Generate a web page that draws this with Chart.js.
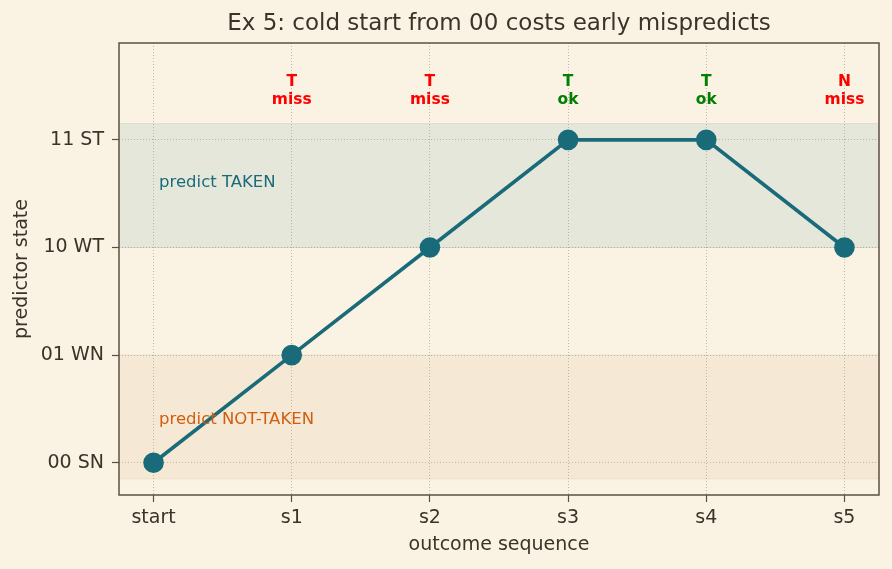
<!DOCTYPE html>
<html>
<head>
<meta charset="utf-8">
<script src="https://cdn.jsdelivr.net/npm/chart.js@4.4.0/dist/chart.umd.min.js"></script>
<style>
  html, body { margin: 0; padding: 0; background: #faf3e4; }
  #wrap { width: 892px; height: 569px; }
</style>
</head>
<body>
<div id="wrap"><canvas id="fsmChart" width="892" height="569"></canvas></div>
<script>
  // step labels and predictor state after each step
  const steps = ['start', 's1', 's2', 's3', 's4', 's5'];
  const states = [0, 1, 2, 3, 3, 2];
  const stateLabels = ['00 SN', '01 WN', '10 WT', '11 ST'];
  // outcome and prediction result for s1..s5
  const outcomes = ['T', 'T', 'T', 'T', 'N'];
  const results = ['miss', 'miss', 'ok', 'ok', 'miss'];

  const FONT = "'DejaVu Sans', sans-serif";
  const TEXT = '#3a3329';
  const TEAL = '#1a6b7a';
  const FRAME = '#5c5040';

  const decorPlugin = {
    id: 'decor',
    beforeDraw(chart) {
      const { ctx, chartArea: a, scales: { x, y } } = chart;
      ctx.save();
      ctx.fillStyle = '#faf3e4';
      ctx.fillRect(0, 0, chart.width, chart.height);
      ctx.beginPath();
      ctx.rect(a.left, a.top, a.right - a.left, a.bottom - a.top);
      ctx.clip();
      // predict TAKEN band
      let t = y.getPixelForValue(3.15), b = y.getPixelForValue(2);
      ctx.fillStyle = '#e6e7db';
      ctx.fillRect(a.left, t, a.right - a.left, b - t);
      ctx.strokeStyle = '#dadbcd';
      ctx.lineWidth = 1;
      ctx.strokeRect(a.left - 2, t, a.right - a.left + 4, b - t);
      // predict NOT-TAKEN band
      t = y.getPixelForValue(1); b = y.getPixelForValue(-0.15);
      ctx.fillStyle = '#f5e8d4';
      ctx.fillRect(a.left, t, a.right - a.left, b - t);
      ctx.strokeStyle = '#ecdfca';
      ctx.strokeRect(a.left - 2, t, a.right - a.left + 4, b - t);
      ctx.restore();
    },
    afterDatasetsDraw(chart) {
      const { ctx, chartArea: a, scales: { x, y } } = chart;
      ctx.save();
      // region labels
      ctx.font = '16.5px ' + FONT;
      ctx.textAlign = 'left';
      ctx.textBaseline = 'middle';
      ctx.fillStyle = TEAL;
      ctx.fillText('predict TAKEN', x.getPixelForValue(0.04), y.getPixelForValue(2.6));
      ctx.fillStyle = '#d35d0e';
      ctx.fillText('predict NOT-TAKEN', x.getPixelForValue(0.04), y.getPixelForValue(0.4));
      // outcome annotations
      ctx.font = 'bold 15.5px ' + FONT;
      ctx.textAlign = 'center';
      outcomes.forEach((o, i) => {
        const px = x.getPixelForValue(i + 1);
        ctx.fillStyle = results[i] === 'ok' ? 'green' : 'red';
        ctx.fillText(o, px, y.getPixelForValue(3.54));
        ctx.fillText(results[i], px, y.getPixelForValue(3.37));
      });
      // frame
      ctx.strokeStyle = FRAME;
      ctx.lineWidth = 1.5;
      ctx.strokeRect(a.left, a.top, a.right - a.left, a.bottom - a.top);
      // titles
      ctx.fillStyle = TEXT;
      ctx.font = '23px ' + FONT;
      ctx.textAlign = 'center';
      ctx.fillText('Ex 5: cold start from 00 costs early mispredicts', (a.left + a.right) / 2, 24);
      ctx.font = '19px ' + FONT;
      ctx.fillText('outcome sequence', (a.left + a.right) / 2, 545);
      ctx.translate(22, (a.top + a.bottom) / 2);
      ctx.rotate(-Math.PI / 2);
      ctx.fillText('predictor state', 0, 0);
      ctx.restore();
    }
  };

  const gridStyle = {
    color: 'rgba(150,140,125,0.7)',
    lineWidth: 0.8,
    tickColor: FRAME,
    tickLength: 7,
    tickBorderDash: [],
    tickWidth: 1.2
  };
  // in v4 the grid line dash comes from border.dash
  const borderStyle = { display: false, dash: [1, 2] };

  new Chart(document.getElementById('fsmChart'), {
    type: 'line',
    data: {
      datasets: [{
        data: states.map((s, i) => ({ x: i, y: s })),
        borderColor: TEAL,
        backgroundColor: TEAL,
        borderWidth: 3.6,
        pointRadius: 8.5,
        pointHoverRadius: 8.5,
        pointBackgroundColor: TEAL,
        pointBorderColor: TEAL,
        tension: 0
      }]
    },
    plugins: [decorPlugin],
    options: {
      responsive: false,
      animation: false,
      layout: { padding: { top: 43, right: 13, left: 0, bottom: 0 } },
      plugins: { legend: { display: false }, tooltip: { enabled: false }, title: { display: false } },
      scales: {
        x: {
          type: 'linear',
          min: -0.25,
          max: 5.25,
          afterBuildTicks: s => { s.ticks = steps.map((_, i) => ({ value: i })); },
          afterFit: s => { s.height = 74; },
          ticks: {
            callback: v => steps[v],
            color: TEXT,
            font: { family: FONT, size: 19 },
            padding: 5,
            maxRotation: 0,
            autoSkip: false
          },
          grid: gridStyle,
          border: borderStyle
        },
        y: {
          type: 'linear',
          min: -0.3,
          max: 3.9,
          afterBuildTicks: s => { s.ticks = stateLabels.map((_, i) => ({ value: i })); },
          afterFit: s => { s.width = 119; },
          ticks: {
            callback: v => stateLabels[v],
            color: TEXT,
            font: { family: FONT, size: 19 },
            padding: 8,
            autoSkip: false
          },
          grid: gridStyle,
          border: borderStyle
        }
      }
    }
  });
</script>
</body>
</html>
